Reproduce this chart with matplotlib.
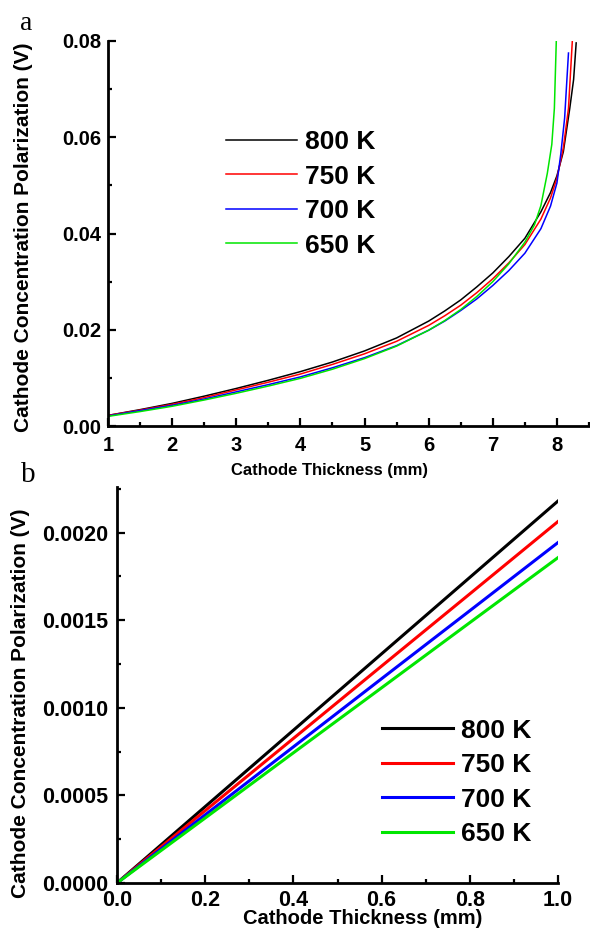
import matplotlib
matplotlib.use("Agg")
import matplotlib.pyplot as plt
from matplotlib.ticker import MultipleLocator, FormatStrFormatter

plt.rcParams["font.family"] = ["Liberation Sans", "DejaVu Sans"]
plt.rcParams["font.weight"] = "bold"

labels = ["800 K", "750 K", "700 K", "650 K"]
colors = ["#000000", "#ff0000", "#0000ff", "#00e600"]

# panel a: concentration polarization vs thickness (1 - 8.3 mm)
x_a_800 = [1.0, 1.5, 2.0, 2.5, 3.0, 3.5, 4.0, 4.5, 5.0, 5.5, 6.0, 6.25, 6.5, 6.75, 7.0, 7.25,
           7.5, 7.75, 7.9, 8.0, 8.1, 8.2, 8.26, 8.3]
y_a_800 = [0.0022, 0.0034, 0.0047, 0.0062, 0.0078, 0.0095, 0.0113, 0.0133, 0.0156, 0.0183,
           0.0218, 0.0239, 0.0262, 0.0289, 0.0318, 0.0352, 0.0390, 0.0445, 0.0485, 0.0520,
           0.0570, 0.0660, 0.0720, 0.0796]
x_a_750 = [1.0, 1.5, 2.0, 2.5, 3.0, 3.5, 4.0, 4.5, 5.0, 5.5, 6.0, 6.25, 6.5, 6.75, 7.0, 7.25,
           7.5, 7.75, 7.9, 8.0, 8.1, 8.18, 8.24]
y_a_750 = [0.0022, 0.0033, 0.0045, 0.0059, 0.0075, 0.0091, 0.0108, 0.0128, 0.0150, 0.0176,
           0.0209, 0.0229, 0.0251, 0.0277, 0.0306, 0.0339, 0.0377, 0.0430, 0.0474, 0.0515,
           0.0578, 0.0660, 0.0800]
x_a_700 = [1.0, 1.5, 2.0, 2.5, 3.0, 3.5, 4.0, 4.5, 5.0, 5.5, 6.0, 6.25, 6.5, 6.75, 7.0, 7.25,
           7.5, 7.75, 7.9, 8.0, 8.06, 8.12, 8.18]
y_a_700 = [0.0021, 0.0032, 0.0043, 0.0056, 0.0071, 0.0086, 0.0102, 0.0121, 0.0142, 0.0167,
           0.0199, 0.0218, 0.0240, 0.0264, 0.0292, 0.0323, 0.0359, 0.0410, 0.0457, 0.0505,
           0.0565, 0.0640, 0.0775]
x_a_650 = [1.0, 1.5, 2.0, 2.5, 3.0, 3.5, 4.0, 4.5, 5.0, 5.5, 6.0, 6.25, 6.5, 6.75, 7.0, 7.25,
           7.5, 7.65, 7.75, 7.85, 7.92, 7.96, 7.99]
y_a_650 = [0.0020, 0.0030, 0.0041, 0.0054, 0.0068, 0.0083, 0.0099, 0.0118, 0.0140, 0.0166,
           0.0199, 0.0219, 0.0242, 0.0269, 0.0300, 0.0337, 0.0382, 0.0418, 0.0458, 0.0525,
           0.0585, 0.0660, 0.0800]

# panel b: thin cathode region (0 - 1 mm)
x_b = [0.0, 0.2, 0.4, 0.6, 0.8, 1.0]
y_b_800 = [0.0, 0.000436, 0.000872, 0.001308, 0.001744, 0.002180]
y_b_750 = [0.0, 0.000413, 0.000825, 0.001238, 0.001650, 0.002063]
y_b_700 = [0.0, 0.000389, 0.000777, 0.001166, 0.001554, 0.001943]
y_b_650 = [0.0, 0.000371, 0.000743, 0.001114, 0.001486, 0.001857]

W, H = 590, 932
fig = plt.figure(figsize=(W / 100, H / 100), dpi=100)


def px_axes(left, top, right, bottom):
    return fig.add_axes([left / W, 1 - bottom / H, (right - left) / W, (bottom - top) / H])


def style(ax, ticksize):
    for s in ["top", "right"]:
        ax.spines[s].set_visible(False)
    for s in ["left", "bottom"]:
        ax.spines[s].set_linewidth(2.0)
    ax.tick_params(which="both", direction="in", width=1.6)
    ax.tick_params(which="major", length=6, labelsize=ticksize)
    ax.tick_params(which="minor", length=3)


# ---- panel a ----
ax1 = px_axes(108, 41, 589, 426)
series_a = [(x_a_800, y_a_800), (x_a_750, y_a_750), (x_a_700, y_a_700), (x_a_650, y_a_650)]
for (xs, ys), c, lab in zip(series_a, colors, labels):
    ax1.plot(xs, ys, color=c, lw=1.1, label=lab)
ax1.set_xlim(1, 8.5)
ax1.set_ylim(0, 0.08)
ax1.xaxis.set_major_locator(MultipleLocator(1))
ax1.xaxis.set_minor_locator(MultipleLocator(0.5))
ax1.yaxis.set_major_locator(MultipleLocator(0.02))
ax1.yaxis.set_minor_locator(MultipleLocator(0.01))
ax1.yaxis.set_major_formatter(FormatStrFormatter("%.2f"))
style(ax1, 14.5)
ax1.tick_params(axis="x", pad=7)
ax1.tick_params(axis="y", pad=5)
ax1.set_xlabel("Cathode Thickness (mm)", fontsize=12, fontweight="bold")
ax1.set_ylabel("Cathode Concentration Polarization (V)", fontsize=15, fontweight="bold")
ax1.xaxis.set_label_coords(0.461, -0.096)
ax1.yaxis.set_label_coords(-0.156, 0.49)
ax1.legend(loc="center left", bbox_to_anchor=(0.245, 0.603), frameon=False,
           prop={"size": 19, "weight": "bold"}, handlelength=2.7, handletextpad=0.3,
           labelspacing=0.40, borderpad=0, borderaxespad=0)
fig.text(26 / W, 1 - 23 / H, "a", family="Liberation Serif", fontsize=20,
         fontweight="normal", ha="center", va="center")

# ---- panel b ----
ax2 = px_axes(117, 487, 558, 883)
series_b = [y_b_800, y_b_750, y_b_700, y_b_650]
for ys, c, lab in zip(series_b, colors, labels):
    ax2.plot(x_b, ys, color=c, lw=2.2, label=lab)
ax2.set_xlim(0, 1.0)
ax2.set_ylim(0, 0.00226)
ax2.xaxis.set_major_locator(MultipleLocator(0.2))
ax2.xaxis.set_minor_locator(MultipleLocator(0.1))
ax2.yaxis.set_major_locator(MultipleLocator(0.0005))
ax2.yaxis.set_minor_locator(MultipleLocator(0.00025))
ax2.xaxis.set_major_formatter(FormatStrFormatter("%.1f"))
ax2.yaxis.set_major_formatter(FormatStrFormatter("%.4f"))
style(ax2, 15.5)
ax2.tick_params(axis="x", pad=5)
ax2.tick_params(axis="y", pad=6)
ax2.set_xlabel("Cathode Thickness (mm)", fontsize=14.5, fontweight="bold")
ax2.set_ylabel("Cathode Concentration Polarization (V)", fontsize=15, fontweight="bold")
ax2.xaxis.set_label_coords(0.556, -0.066)
ax2.yaxis.set_label_coords(-0.197, 0.455)
ax2.legend(loc="center left", bbox_to_anchor=(0.601, 0.254), frameon=False,
           prop={"size": 19, "weight": "bold"}, handlelength=2.7, handletextpad=0.3,
           labelspacing=0.40, borderpad=0, borderaxespad=0)
fig.text(28 / W, 1 - 475 / H, "b", family="Liberation Serif", fontsize=21,
         fontweight="normal", ha="center", va="center")

fig.savefig("out.png", dpi=100)
